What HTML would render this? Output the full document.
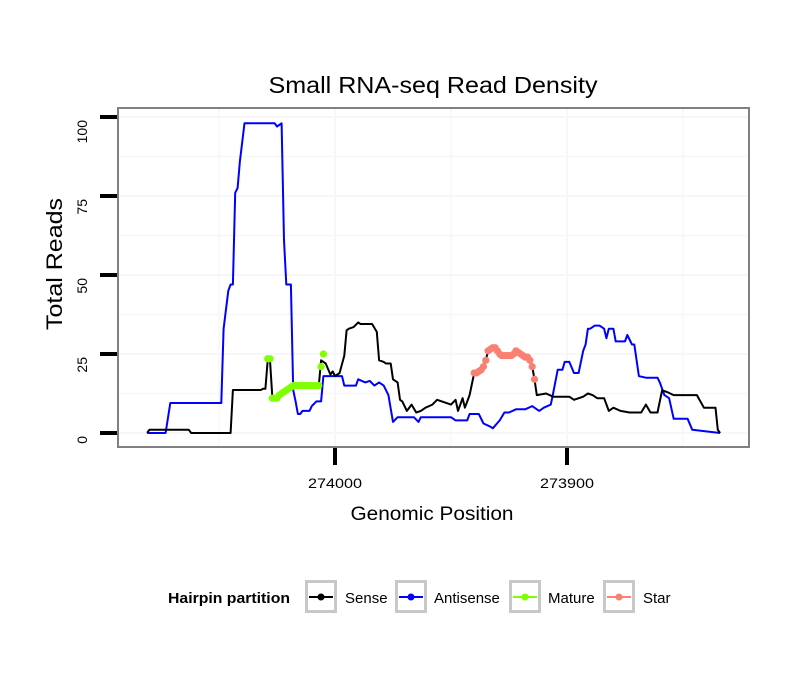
<!DOCTYPE html>
<html><head><meta charset="utf-8">
<style>
body{margin:0;background:#fff;font-family:"Liberation Sans",Arial,sans-serif;}
svg text{font-family:"Liberation Sans",Arial,sans-serif;}
</style></head>
<body>
<svg id="chart" width="810" height="690" viewBox="0 0 810 690" xmlns="http://www.w3.org/2000/svg">
<rect x="0" y="0" width="810" height="690" fill="#fff"/>
<text x="433" y="93" font-size="23" text-anchor="middle" textLength="329" lengthAdjust="spacingAndGlyphs" fill="#000">Small RNA-seq Read Density</text>
<g id="grid"></g>
<g id="series"></g>
<rect x="118" y="108" width="631" height="339" fill="none" stroke="#808080" stroke-width="2"/>
<g id="axes"></g>
<text transform="translate(62,264) rotate(-90)" font-size="22" text-anchor="middle" textLength="132" lengthAdjust="spacingAndGlyphs">Total Reads</text>
<text x="432" y="520" font-size="19" text-anchor="middle" textLength="163" lengthAdjust="spacingAndGlyphs">Genomic Position</text>
<g>
<text x="168" y="603" font-size="15" font-weight="bold" textLength="122" lengthAdjust="spacingAndGlyphs">Hairpin partition</text>
<g>
<rect x="306.5" y="581.5" width="29" height="30" fill="#fff" stroke="#c8c8c8" stroke-width="3"/>
<line x1="309" y1="597" x2="333" y2="597" stroke="#000" stroke-width="2"/><circle cx="321" cy="597" r="3.5" fill="#000"/>
<text x="345" y="603" font-size="15">Sense</text></g>
<g>
<rect x="396.5" y="581.5" width="29" height="30" fill="#fff" stroke="#c8c8c8" stroke-width="3"/>
<line x1="399" y1="597" x2="423" y2="597" stroke="#0000ff" stroke-width="2"/><circle cx="411" cy="597" r="3.5" fill="#0000ff"/>
<text x="434" y="603" font-size="15">Antisense</text></g>
<g>
<rect x="510.5" y="581.5" width="29" height="30" fill="#fff" stroke="#c8c8c8" stroke-width="3"/>
<line x1="513" y1="597" x2="537" y2="597" stroke="#7fff00" stroke-width="2"/><circle cx="525" cy="597" r="3.5" fill="#7fff00"/>
<text x="548" y="603" font-size="15">Mature</text></g>
<g>
<rect x="604.5" y="581.5" width="29" height="30" fill="#fff" stroke="#c8c8c8" stroke-width="3"/>
<line x1="607" y1="597" x2="631" y2="597" stroke="#fa8072" stroke-width="2"/><circle cx="619" cy="597" r="3.5" fill="#fa8072"/>
<text x="643" y="603" font-size="15">Star</text></g>
</g>
</svg>
<script>
const antisensePos=[274081,274073,274071,274049,274048,274046,274045,274044,274043,274042,274041,274039,274026,274025,274023,274022,274021,274019,274018,274017,274016,274015,274014,274011,274010,274008,274006,274005,274002,273997,273996,273991,273990,273987,273985,273983,273981,273979,273977,273975,273973,273966,273964,273963,273959,273957,273950,273948,273943,273942,273938,273936,273933,273932,273929,273927,273925,273922,273918,273915,273914,273912,273910,273907,273906,273904,273902,273901,273899,273897,273895,273893,273892,273891,273890,273888,273886,273884,273883,273882,273880,273879,273875,273874,273872,273871,273869,273866,273861,273860,273858,273856,273854,273848,273846,273834];
const antisenseVal=[0,0,9.5,9.5,33,45,47,47,76,77.5,86,98,98,97,98,61,47,47,13.6,10,6,6,7,7,8.5,10,10,18,18,18,15,15,17,16,16.5,15,16,15,12,3.5,5,5,3.5,5,5,5,5,4,4,6,6,3,2,1.5,4,6.5,6.5,7.5,7.5,8.5,8,7,8,9,12.5,20,20,22.5,22.5,19,19,26,28,33,33,34,34,33,30,33,33,29,29,31,28,28,18,17.5,17.5,16,12,11,4.5,4.5,1,0];
const sensePos=[274081,274080,274063,274062,274045,274044,274032,274031,274030,274029,274028,274027,274024,274022,274020,274018,274015,274007,274006,274004,274002,274001,274000,273998,273996,273995,273994,273992,273990,273989,273984,273982,273981,273979,273978,273976,273975,273973,273972,273971,273969,273967,273965,273963,273961,273958,273956,273950,273948,273947,273945,273944,273942,273940,273938,273936,273935,273934,273932,273931,273929,273924,273922,273920,273918,273916,273915,273914,273913,273909,273906,273899,273897,273893,273891,273889,273887,273884,273882,273880,273877,273873,273868,273866,273864,273861,273859,273857,273854,273844,273841,273836,273835,273834];
const senseVal=[0,1,1,0,0,13.6,13.6,14,14,23,23,11,11,13,14,15,15,15,23,22,18.5,19.5,18,19,24.5,32.5,33,33.5,35,34.5,34.5,32,23,22.5,22,22,17,16,10.5,10,7,9,6.5,7,8,9,10.5,9,10.5,7,11,8,12,19,19.5,20.5,23,26,27,27,24,24,26,24.5,24,23,21,17,12,12.5,11.5,11.5,10.5,11.5,12.5,12,11,11,7,8,7,6.5,6.5,9,6.5,6.5,13.5,13,12,12,8,8,1,0];
const maturePos=[274029,274028,274027,274026,274025,274024,274023,274022,274021,274020,274019,274018,274017,274016,274015,274014,274013,274012,274011,274010,274009,274008,274007,274006,274005];
const matureVal=[23.5,23.5,11,11,11,12,12.5,13,13.5,14,14.5,15,15,15,15,15,15,15,15,15,15,15,15,21,25];
const starPos=[273940,273939,273938,273937,273936,273935,273934,273933,273932,273931,273930,273929,273928,273927,273926,273925,273924,273923,273922,273921,273920,273919,273918,273917,273916,273915,273914];
const starVal=[19,19,19.5,20,21,23,26,26.5,27,27,26,25,24.5,24.5,24.5,24.5,24.5,25,26,25.5,25,24.5,24,24,23,21,17];
const yTicks=[0,25,50,75,100];
const xTicks=[274000,273900];

const NS="http://www.w3.org/2000/svg";
function xs(p){return 335-(p-274000)*2.32;}
function ys(v){return 433-v*3.16;}
function mk(tag,attrs,parent){const e=document.createElementNS(NS,tag);for(const k in attrs)e.setAttribute(k,attrs[k]);parent.appendChild(e);return e;}
const grid=document.getElementById('grid'),series=document.getElementById('series'),axes=document.getElementById('axes');
for(let v=0;v<=100;v+=12.5){
  const g=mk('line',{x1:119,x2:748,y1:ys(v),y2:ys(v),stroke:'#f7f7f7','stroke-width':v%25===0?2:1.5},grid);
  
  
}
for(let p=274050;p>=273800;p-=50){
  const x=xs(p); if(x<119||x>748) continue;
  const g=mk('line',{x1:x,x2:x,y1:109,y2:446,stroke:'#f7f7f7','stroke-width':p%100===0?2:1.5},grid);
  
  
}
function line(pos,val,color,name){
  const d=pos.map((p,i)=>(i?'L':'M')+xs(p).toFixed(1)+','+ys(val[i]).toFixed(1)).join(' ');
  const e=mk('path',{d:d,fill:'none',stroke:color,'stroke-width':2,'stroke-linejoin':'round'},series);
  
  
}
function pts(pos,val,color,name){
  pos.forEach((p,i)=>{
    const c=mk('circle',{cx:xs(p),cy:ys(val[i]),r:3.6,fill:color},series);
    
    
  });
}
line(antisensePos,antisenseVal,'#0000ff','antisense-line');
line(sensePos,senseVal,'#000000','sense-line');
pts(maturePos,matureVal,'#7fff00','mature-point');
pts(starPos,starVal,'#fa8072','star-point');
yTicks.forEach(v=>{
  const t=mk('line',{x1:100,x2:117,y1:ys(v),y2:ys(v),stroke:'#000','stroke-width':4},axes);
  
  
  const l=mk('text',{transform:'translate(87,'+(ys(v)+3)+') rotate(-90)','font-size':14,'text-anchor':'end'},axes);
  l.textContent=v;
  
  
});
xTicks.forEach(p=>{
  const t=mk('line',{x1:xs(p),x2:xs(p),y1:448,y2:465,stroke:'#000','stroke-width':4},axes);
  
  
  const l=mk('text',{x:xs(p),y:488,'font-size':14,'text-anchor':'middle',textLength:54,lengthAdjust:'spacingAndGlyphs'},axes);
  l.textContent=p;
  
  
});
</script>
</body></html>
